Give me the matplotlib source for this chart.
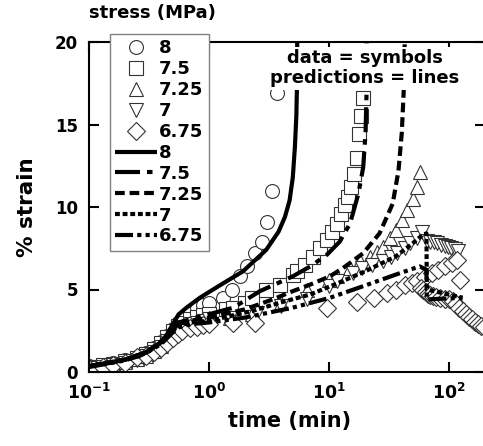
import matplotlib
matplotlib.use('Agg')
import matplotlib.pyplot as plt
from matplotlib.lines import Line2D

plt.rcParams['font.family'] = 'DejaVu Sans'
plt.rcParams['font.weight'] = 'bold'
plt.rcParams['mathtext.fontset'] = 'dejavusans'
plt.rcParams['lines.scale_dashes'] = False

stress_labels = ['8', '7.5', '7.25', '7', '6.75']

# measured data (symbols): time (min), % strain
t_8 = [0.1, 0.13, 0.16, 0.2, 0.25, 0.3, 0.35, 0.4, 0.45, 0.5, 0.55, 0.6, 0.7, 0.8, 0.9, 1.0,
       1.3, 1.55, 1.8, 2.07, 2.4, 2.76, 3.04, 3.36, 3.66]
e_8 = [0.35, 0.45, 0.55, 0.7, 0.9, 1.15, 1.45, 1.8, 2.2, 2.6, 3.0, 3.3, 3.6, 3.85, 4.05, 4.2,
       4.5, 5.0, 5.8, 6.4, 7.2, 7.9, 9.1, 11.0, 16.9]

t_75 = [0.1, 0.13, 0.16, 0.2, 0.25, 0.3, 0.35, 0.4, 0.45, 0.5, 0.55, 0.6, 0.7, 0.8, 0.9, 1.0,
        1.4, 1.6, 2.0, 2.3, 3.0, 3.9, 5.0, 5.4, 6.3, 7.4, 8.4, 9.6, 10.6, 11.6, 12.5, 13.5,
        14.4, 15.3, 16.2, 17.0, 17.7, 18.5, 19.3]
e_75 = [0.3, 0.4, 0.5, 0.65, 0.85, 1.1, 1.4, 1.75, 2.1, 2.5, 2.8, 3.0, 3.2, 3.35, 3.45, 3.5,
        3.8, 3.9, 4.2, 4.5, 5.0, 5.3, 5.9, 6.1, 6.5, 7.0, 7.5, 8.0, 8.5, 9.0, 9.6, 10.1,
        10.6, 11.2, 12.0, 13.0, 14.4, 15.5, 16.6]

t_725 = [0.1, 0.13, 0.16, 0.2, 0.25, 0.3, 0.35, 0.4, 0.45, 0.5, 0.55, 0.6, 0.7, 0.8, 0.9, 1.0,
         1.5, 2.3, 4.0, 6.6, 10, 11.7, 15, 18, 22, 25, 28, 32, 36.5, 41, 45, 50, 54, 57]
e_725 = [0.25, 0.35, 0.45, 0.6, 0.8, 1.0, 1.3, 1.6, 2.0, 2.3, 2.6, 2.8, 3.0, 3.1, 3.2, 3.3,
         3.3, 3.5, 4.2, 5.0, 5.6, 5.8, 6.3, 6.7, 7.0, 7.3, 7.6, 8.1, 8.6, 9.2, 9.8, 10.5, 11.2, 12.1]

t_7 = [0.1, 0.13, 0.16, 0.2, 0.25, 0.3, 0.35, 0.4, 0.45, 0.5, 0.55, 0.6, 0.7, 0.8, 0.9, 1.0,
       1.5, 2.5, 4.0, 6.6, 10, 11.7, 16, 19, 23, 28, 33, 37, 43, 47, 54, 60,
       66, 70, 75, 80, 86, 92, 98, 105, 112, 120]
e_7 = [0.25, 0.3, 0.4, 0.55, 0.75, 0.95, 1.2, 1.5, 1.85, 2.2, 2.5, 2.7, 2.9, 3.0, 3.1, 3.2,
       3.3, 3.6, 4.0, 4.4, 5.2, 5.5, 6.0, 6.3, 6.5, 6.7, 7.0, 7.2, 7.5, 7.8, 8.1, 8.5,
       7.95, 7.9, 7.85, 7.8, 7.7, 7.65, 7.6, 7.5, 7.45, 7.35]

t_675 = [0.1, 0.13, 0.16, 0.2, 0.25, 0.3, 0.35, 0.4, 0.45, 0.5, 0.55, 0.6, 0.7, 0.8, 0.9, 1.0,
         1.6, 2.4, 9.6, 17, 23.6, 30.6, 36.5, 43, 49, 54, 63, 72, 81, 93, 106, 117, 123,
         58, 61, 64, 67, 70, 74, 78, 85, 92, 100, 108, 115, 122, 130, 138, 146, 155, 165, 175, 185, 195]
e_675 = [0.2, 0.3, 0.4, 0.55, 0.9, 1.0, 1.2, 1.45, 1.75, 2.05, 2.3, 2.5, 2.65, 2.75, 2.85, 2.9,
         3.0, 3.0, 3.9, 4.25, 4.5, 4.8, 5.0, 5.3, 5.4, 5.5, 5.75, 6.0, 6.2, 6.4, 6.6, 6.8, 5.6,
         5.1, 4.95, 4.85, 4.75, 4.65, 4.6, 4.55, 4.5, 4.45, 4.4, 4.3, 4.1, 3.9, 3.7, 3.5, 3.35, 3.2, 3.05, 2.9, 2.8, 2.7]

# model predictions (lines)
pt_8 = [0.1, 0.15, 0.2, 0.26, 0.32, 0.38, 0.44, 0.5, 0.56, 0.65, 0.84, 1.2, 1.92, 3.0, 3.8,
        4.3, 4.7, 5.0, 5.2, 5.35, 5.42, 5.45]
pe_8 = [0.35, 0.55, 0.75, 0.95, 1.3, 1.7, 2.2, 2.9, 3.5, 3.9, 4.5, 5.2, 6.1, 7.4, 8.5,
        9.4, 10.4, 11.8, 13.6, 15.5, 17.5, 20.5]

pt_75 = [0.1, 0.2, 0.3, 0.4, 0.5, 0.56, 0.7, 1.0, 1.6, 2.66, 5.0, 7.0, 9.6, 12.3, 15, 17.6,
         19.3, 20.2, 20.6, 20.7]
pe_75 = [0.35, 0.75, 1.2, 1.8, 2.6, 3.0, 3.2, 3.5, 3.9, 4.9, 5.8, 6.4, 7.1, 7.9, 9.0, 10.8,
         12.4, 14.5, 17.0, 20.5]

pt_725 = [0.1, 0.2, 0.3, 0.4, 0.5, 0.56, 0.7, 1.0, 2.0, 3.4, 5.0, 7.0, 10.2, 13.1, 19.3, 26.4,
          34, 38, 40.5, 42, 43]
pe_725 = [0.35, 0.75, 1.2, 1.8, 2.5, 2.9, 3.1, 3.3, 3.8, 4.4, 4.9, 5.3, 5.8, 6.3, 7.2, 8.4,
          10.2, 12.2, 14.5, 17.0, 20.5]

pt_7 = [0.1, 0.2, 0.3, 0.4, 0.5, 0.56, 0.7, 1.0, 2.3, 3.9, 7.0, 12, 20, 36, 50, 60, 65, 65.5, 130]
pe_7 = [0.35, 0.75, 1.2, 1.8, 2.5, 2.8, 3.0, 3.1, 3.7, 4.2, 4.7, 5.4, 6.1, 7.0, 7.8, 8.3, 8.4, 5.0, 4.5]

pt_675 = [0.1, 0.2, 0.3, 0.4, 0.5, 0.56, 0.7, 1.0, 2.0, 5.0, 10.2, 19.3, 36, 57, 65, 65.5, 130]
pe_675 = [0.3, 0.7, 1.15, 1.7, 2.4, 2.7, 2.9, 3.0, 3.3, 3.9, 4.5, 5.2, 5.9, 6.4, 6.2, 4.4, 4.5]

fig = plt.figure(figsize=(4.83, 4.46), dpi=100)
ax = fig.add_axes([89 / 483, 74 / 446, 396 / 483, 330 / 446])

markers = ['o', 's', '^', 'v', 'D']
msizes = [10, 10, 10, 10, 9]
sym_data = [(t_8, e_8), (t_75, e_75), (t_725, e_725), (t_7, e_7), (t_675, e_675)]
for (t, e), m, ms in zip(sym_data, markers, msizes):
    ax.plot(t, e, ls='none', marker=m, ms=ms, mfc='white', mec='#333333', mew=0.8, zorder=2)

dash_styles = [None, (18, 5, 4, 5), (7, 3.5), (3.5, 2), (13, 3, 3, 3, 3, 3)]
line_data = [(pt_8, pe_8), (pt_75, pe_75), (pt_725, pe_725), (pt_7, pe_7), (pt_675, pe_675)]
for (t, e), d in zip(line_data, dash_styles):
    ln, = ax.plot(t, e, color='black', lw=3, zorder=3, solid_capstyle='butt')
    if d is not None:
        ln.set_dashes(d)

ax.set_xscale('log')
ax.set_xlim(0.1, 200)
ax.set_ylim(0, 20)
ax.set_xticks([0.1, 1, 10, 100])
ax.set_xticklabels([r'$\mathbf{10^{-1}}$', r'$\mathbf{10^{0}}$', r'$\mathbf{10^{1}}$', r'$\mathbf{10^{2}}$'],
                   fontsize=12.5)
ax.xaxis.set_minor_locator(matplotlib.ticker.NullLocator())
ax.set_yticks([0, 5, 10, 15, 20])
ax.set_yticklabels(['0', '5', '10', '15', '20'], fontsize=12, fontweight='bold')
ax.tick_params(which='major', direction='in', length=7, width=1.5, top=True, right=True)
ax.tick_params(axis='x', pad=8)
ax.tick_params(axis='y', pad=8)
for sp in ax.spines.values():
    sp.set_linewidth(1.5)

ax.set_xlabel('time (min)', fontsize=15, fontweight='bold')
ax.xaxis.set_label_coords((290 - 89) / 396, (372 - 411) / 330)
ax.set_ylabel('% strain', fontsize=15.5, fontweight='bold')
ax.yaxis.set_label_coords((37 - 89) / 396, 0.5)

ax.text(0.697, 0.92, 'data = symbols\npredictions = lines', transform=ax.transAxes,
        ha='center', va='center', fontsize=13, fontweight='bold', zorder=10, linespacing=1.15,
        bbox=dict(facecolor='white', edgecolor='none', pad=1.5))

handles = []
for m, ms in zip(markers, msizes):
    handles.append(Line2D([], [], ls='none', marker=m, ms=ms, mfc='white', mec='#333333', mew=0.8))
for d in dash_styles:
    h = Line2D([], [], color='black', lw=3, solid_capstyle='butt')
    if d is not None:
        h.set_dashes(d)
    handles.append(h)
labels = stress_labels + stress_labels
leg = ax.legend(handles, labels, loc='upper left', bbox_to_anchor=((110 - 89) / 396, (372 - 34) / 330),
                borderaxespad=0, handlelength=2.3, handletextpad=0.1,
                labelspacing=0.16, borderpad=0.3, fancybox=False, framealpha=1,
                edgecolor='#808080', prop={'weight': 'bold', 'size': 13})
leg.get_frame().set_linewidth(1.0)

fig.text(152 / 483, 1 - 13 / 446, 'stress (MPa)', ha='center', va='center', fontsize=13, fontweight='bold')

fig.savefig('out.png', dpi=100)
